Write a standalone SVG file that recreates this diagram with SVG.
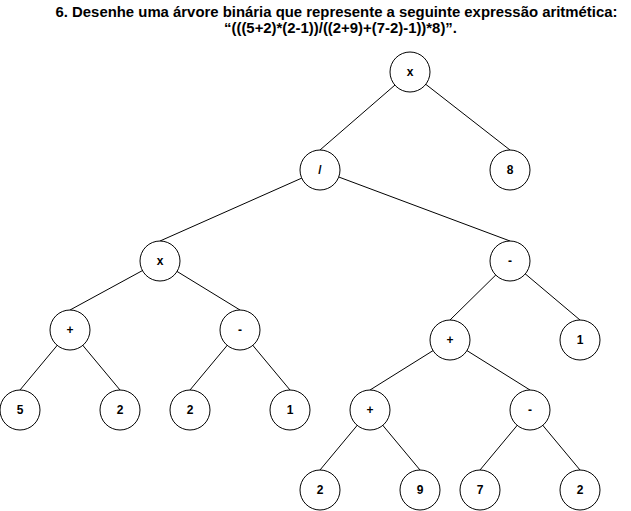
<svg xmlns="http://www.w3.org/2000/svg" width="631" height="511" viewBox="0 0 631 511">
<style>
.title{font-family:"Liberation Sans",Arial,sans-serif;font-weight:bold;font-size:14.9px;fill:#000;text-anchor:middle}
.edge{stroke:#000;stroke-width:1;fill:none}
.node circle{fill:#fff;stroke:#000;stroke-width:1}
.node text{font-family:"Liberation Sans",Arial,sans-serif;font-weight:bold;font-size:12px;fill:#000;text-anchor:middle}
</style>
<rect width="631" height="511" fill="#fff"/>
<g id="title">
<text class="title" x="336.5" y="17">6. Desenhe uma árvore binária que represente a seguinte expressão aritmética:</text>
<text class="title" x="340.5" y="33">“(((5+2)*(2-1))/((2+9)+(7-2)-1))*8)”.</text>
</g>
<g id="connectors" class="edge">
<line x1="410" y1="72" x2="320" y2="150"/>
<line x1="410" y1="72" x2="510" y2="150"/>
<line x1="320" y1="170" x2="160" y2="241"/>
<line x1="320" y1="170" x2="510" y2="241"/>
<line x1="160" y1="261" x2="70" y2="310"/>
<line x1="160" y1="261" x2="240" y2="310"/>
<line x1="70" y1="330" x2="20" y2="390"/>
<line x1="70" y1="330" x2="120" y2="390"/>
<line x1="240" y1="330" x2="190" y2="390"/>
<line x1="240" y1="330" x2="290" y2="390"/>
<line x1="510" y1="261" x2="450" y2="320"/>
<line x1="510" y1="261" x2="580" y2="320"/>
<line x1="450" y1="340" x2="370" y2="390"/>
<line x1="450" y1="340" x2="530" y2="390"/>
<line x1="370" y1="410" x2="320" y2="470"/>
<line x1="370" y1="410" x2="420" y2="470"/>
<line x1="530" y1="410" x2="480" y2="470"/>
<line x1="530" y1="410" x2="580" y2="470"/>
</g>
<g id="n-root" class="node"><circle cx="410" cy="72" r="20"/><text x="410" y="76">x</text></g>
<g id="n-div" class="node"><circle cx="320" cy="170" r="20"/><text x="320" y="174">/</text></g>
<g id="n-8" class="node"><circle cx="510" cy="170" r="20"/><text x="510" y="174">8</text></g>
<g id="n-mul" class="node"><circle cx="160" cy="261" r="20"/><text x="160" y="265">x</text></g>
<g id="n-sub1" class="node"><circle cx="510" cy="261" r="20"/><text x="510" y="265">-</text></g>
<g id="n-add1" class="node"><circle cx="70" cy="330" r="20"/><text x="70" y="334">+</text></g>
<g id="n-sub2" class="node"><circle cx="240" cy="330" r="20"/><text x="240" y="334">-</text></g>
<g id="n-add2" class="node"><circle cx="450" cy="340" r="20"/><text x="450" y="344">+</text></g>
<g id="n-1a" class="node"><circle cx="580" cy="340" r="20"/><text x="580" y="344">1</text></g>
<g id="n-5" class="node"><circle cx="20" cy="410" r="20"/><text x="20" y="414">5</text></g>
<g id="n-2a" class="node"><circle cx="120" cy="410" r="20"/><text x="120" y="414">2</text></g>
<g id="n-2b" class="node"><circle cx="190" cy="410" r="20"/><text x="190" y="414">2</text></g>
<g id="n-1b" class="node"><circle cx="290" cy="410" r="20"/><text x="290" y="414">1</text></g>
<g id="n-add3" class="node"><circle cx="370" cy="410" r="20"/><text x="370" y="414">+</text></g>
<g id="n-sub3" class="node"><circle cx="530" cy="410" r="20"/><text x="530" y="414">-</text></g>
<g id="n-2c" class="node"><circle cx="320" cy="490" r="20"/><text x="320" y="494">2</text></g>
<g id="n-9" class="node"><circle cx="420" cy="490" r="20"/><text x="420" y="494">9</text></g>
<g id="n-7" class="node"><circle cx="480" cy="490" r="20"/><text x="480" y="494">7</text></g>
<g id="n-2d" class="node"><circle cx="580" cy="490" r="20"/><text x="580" y="494">2</text></g>
</svg>
